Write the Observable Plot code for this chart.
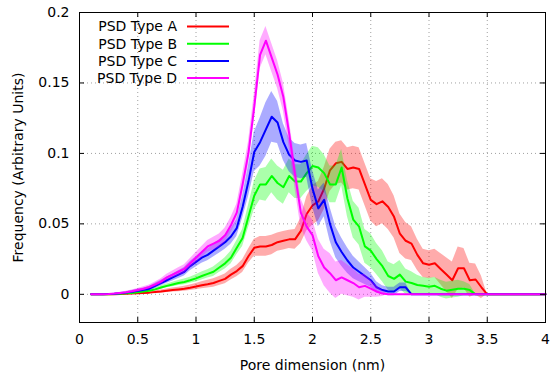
<!DOCTYPE html>
<html>
<head>
<meta charset="utf-8">
<script src="https://cdn.jsdelivr.net/npm/d3@7"></script>
<script src="https://cdn.jsdelivr.net/npm/@observablehq/plot@0.6"></script>
<style>
  html, body { margin: 0; padding: 0; background: #fff; }
  #chart { width: 550px; height: 377px; }
</style>
</head>
<body>
<div id="chart"></div>
<script>
const xs = [
  0.10,0.15,0.20,0.25,0.30,0.35,0.40,0.45,0.50,0.55,
  0.60,0.65,0.70,0.75,0.80,0.85,0.90,0.95,1.00,1.05,
  1.10,1.15,1.20,1.25,1.30,1.35,1.40,1.45,1.50,1.55,
  1.60,1.65,1.70,1.75,1.80,1.85,1.90,1.95,2.00,2.05,
  2.10,2.15,2.20,2.25,2.30,2.35,2.40,2.45,2.50,2.55,
  2.60,2.65,2.70,2.75,2.80,2.85,2.90,2.95,3.00,3.05,
  3.10,3.15,3.20,3.25,3.30,3.35,3.40,3.45,3.50,3.55,
  3.60,3.65,3.70,3.75,3.80,3.85,3.90,3.95,4.00
];

const typeA = [
  0,0,0,0,0.0001,0.0002,0.0004,0.0006,0.0008,0.001,
  0.0012,0.0016,0.002,0.0025,0.003,0.0035,0.004,0.0047,0.0055,0.0065,
  0.0072,0.008,0.0095,0.011,0.014,0.0165,0.02,0.027,0.033,0.034,
  0.034,0.035,0.037,0.038,0.039,0.039,0.045,0.057,0.063,0.066,
  0.075,0.088,0.093,0.094,0.089,0.09,0.089,0.078,0.067,0.064,
  0.066,0.062,0.055,0.043,0.038,0.036,0.028,0.022,0.021,0.022,
  0.018,0.014,0.01,0.0185,0.0185,0.01,0.0105,0.005,0,0,
  0,0,0,0,0,0,0,0,0
];
const errA = [
  0,0,0,0,0.0002,0.0003,0.0004,0.0005,0.0006,0.0007,
  0.0008,0.0009,0.001,0.0012,0.0014,0.0016,0.0018,0.002,0.0022,0.0025,
  0.0028,0.003,0.0032,0.0035,0.0038,0.004,0.0045,0.005,0.006,0.007,
  0.007,0.007,0.0065,0.0065,0.0065,0.007,0.009,0.012,0.014,0.014,
  0.015,0.015,0.015,0.015,0.015,0.015,0.015,0.015,0.015,0.016,
  0.016,0.016,0.015,0.014,0.013,0.012,0.011,0.01,0.01,0.01,
  0.011,0.012,0.013,0.015,0.014,0.012,0.011,0.008,0,0,
  0,0,0,0,0,0,0,0,0
];

const typeB = [
  0,0,0,0,0.0002,0.0004,0.0007,0.001,0.0015,0.002,
  0.0026,0.0035,0.0048,0.006,0.007,0.008,0.0088,0.01,0.0113,0.013,
  0.0145,0.016,0.019,0.022,0.026,0.033,0.04,0.055,0.07,0.078,
  0.078,0.084,0.079,0.076,0.084,0.08,0.08,0.086,0.091,0.09,
  0.086,0.078,0.078,0.09,0.068,0.053,0.048,0.034,0.031,0.025,
  0.02,0.013,0.011,0.014,0.009,0.008,0.0066,0.006,0.0054,0.006,
  0.004,0.0026,0.0033,0.004,0.004,0.003,0,0,0,0,
  0,0,0,0,0,0,0,0,0
];
const errB = [
  0,0,0,0,0.0002,0.0003,0.0004,0.0005,0.0006,0.0007,
  0.0008,0.001,0.0012,0.0014,0.0016,0.0018,0.002,0.0022,0.0025,0.0028,
  0.003,0.0033,0.0036,0.004,0.0045,0.005,0.006,0.008,0.01,0.011,
  0.012,0.012,0.012,0.012,0.012,0.012,0.012,0.013,0.014,0.014,
  0.013,0.013,0.013,0.013,0.013,0.013,0.013,0.012,0.012,0.011,
  0.011,0.01,0.01,0.01,0.009,0.008,0.007,0.006,0.006,0.006,
  0.006,0.006,0.006,0.006,0.005,0.004,0,0,0,0,
  0,0,0,0,0,0,0,0,0
];

const typeC = [
  0,0,0,0.0002,0.0004,0.0008,0.0012,0.0018,0.0025,0.0032,
  0.004,0.006,0.008,0.01,0.012,0.014,0.016,0.02,0.023,0.026,
  0.028,0.031,0.034,0.037,0.041,0.047,0.062,0.08,0.101,0.108,
  0.117,0.126,0.122,0.108,0.099,0.095,0.094,0.095,0.075,0.061,
  0.067,0.05,0.037,0.03,0.024,0.019,0.016,0.013,0.01,0.005,
  0.003,0.002,0.002,0.005,0.005,0,0,0,0,0,
  0,0,0,0,0,0,0,0,0,0,
  0,0,0,0,0,0,0,0,0
];
const errC = [
  0,0,0,0.0002,0.0003,0.0005,0.0007,0.0009,0.0011,0.0013,
  0.0015,0.0018,0.002,0.0022,0.0025,0.0028,0.003,0.0033,0.0036,0.004,
  0.0042,0.0045,0.0048,0.005,0.0055,0.006,0.008,0.011,0.014,0.017,
  0.019,0.018,0.015,0.013,0.012,0.012,0.012,0.012,0.013,0.013,
  0.012,0.012,0.011,0.01,0.009,0.008,0.007,0.006,0.005,0.004,
  0.003,0.003,0.003,0.003,0.003,0,0,0,0,0,
  0,0,0,0,0,0,0,0,0,0,
  0,0,0,0,0,0,0,0,0
];

const typeD = [
  0,0,0,0.0002,0.0005,0.001,0.0015,0.0022,0.003,0.004,
  0.0052,0.007,0.009,0.012,0.014,0.016,0.018,0.022,0.026,0.03,
  0.034,0.036,0.038,0.042,0.049,0.058,0.078,0.1,0.133,0.17,
  0.18,0.168,0.156,0.14,0.114,0.085,0.058,0.048,0.042,0.027,
  0.019,0.015,0.01,0.012,0.01,0.008,0.005,0.006,0.004,0.002,
  0.0005,0,0,0,0,0,0,0,0,0,
  0,0,0,0,0,0,0,0,0,0,
  0,0,0,0,0,0,0,0,0
];
const errD = [
  0,0,0,0.0002,0.0003,0.0005,0.0007,0.0009,0.0011,0.0013,
  0.0015,0.0018,0.002,0.0022,0.0025,0.0028,0.003,0.0033,0.0036,0.004,
  0.0042,0.0045,0.0048,0.005,0.0055,0.006,0.007,0.008,0.009,0.01,
  0.01,0.01,0.01,0.01,0.01,0.01,0.01,0.01,0.011,0.012,
  0.013,0.014,0.013,0.012,0.011,0.01,0.009,0.008,0.006,0.004,
  0.002,0,0,0,0,0,0,0,0,0,
  0,0,0,0,0,0,0,0,0,0,
  0,0,0,0,0,0,0,0,0
];

const seriesNames = ["PSD Type A", "PSD Type B", "PSD Type C", "PSD Type D"];
const seriesColors = ["#ff0000", "#00ff00", "#0000ff", "#ff00ff"];
const seriesValues = [typeA, typeB, typeC, typeD];
const seriesErrors = [errA, errB, errC, errD];

const xTicks = [0, 0.5, 1, 1.5, 2, 2.5, 3, 3.5, 4];
const yTicks = [0, 0.05, 0.1, 0.15, 0.2];
const xGrid = [0.5, 1, 1.5, 2, 2.5, 3, 3.5];
const yGrid = [0, 0.05, 0.1, 0.15];
const xLabel = "Pore dimension (nm)";
const yLabel = "Frequency (Arbitrary Units)";

const tables = seriesNames.map((name, k) =>
  xs.map((x, i) => ({
    x,
    y: seriesValues[k][i],
    lo: seriesValues[k][i] - seriesErrors[k][i],
    hi: seriesValues[k][i] + seriesErrors[k][i]
  }))
);

const W = 550, H = 377, mT = 12, mR = 5, mB = 55, mL = 79;
const fw = W - mL - mR, fh = H - mT - mB;
const tickLen = 5;
const gridStyle = {stroke: "#a0a0a0", strokeOpacity: 1, strokeWidth: 1, strokeDasharray: "1,3"};

const seriesMarks = [];
tables.forEach((rows, k) => {
  seriesMarks.push(Plot.areaY(rows, {x: "x", y1: "lo", y2: "hi", fill: seriesColors[k], fillOpacity: 0.33}));
  seriesMarks.push(Plot.line(rows, {x: "x", y: "y", stroke: seriesColors[k], strokeWidth: 2}));
});

const plot = Plot.plot({
  width: W, height: H,
  marginTop: mT, marginRight: mR, marginBottom: mB, marginLeft: mL,
  x: {domain: [0, 4]},
  y: {domain: [-0.02, 0.2]},
  style: {fontFamily: "'DejaVu Sans', sans-serif", fontSize: "14px", color: "#000", background: "#fff"},
  marks: [
    Plot.ruleX(xGrid, {x: d => d, ...gridStyle}),
    Plot.ruleY(yGrid, {y: d => d, ...gridStyle}),
    ...seriesMarks,
    Plot.ruleX(xTicks, {x: d => d, stroke: "#000", insetTop: fh - tickLen}),
    Plot.ruleX(xTicks, {x: d => d, stroke: "#000", insetBottom: fh - tickLen}),
    Plot.ruleY(yTicks, {y: d => d, stroke: "#000", insetRight: fw - tickLen}),
    Plot.ruleY(yTicks, {y: d => d, stroke: "#000", insetLeft: fw - tickLen}),
    Plot.frame({stroke: "#000", strokeWidth: 1}),
    Plot.axisX({ticks: xTicks, tickSize: 0, tickPadding: 12, tickFormat: d => String(d), label: null, fill: "#000"}),
    Plot.axisY({ticks: yTicks, tickSize: 0, tickPadding: 10, tickFormat: d => String(d), label: null, fill: "#000"}),
    Plot.text([xLabel], {text: d => d, frameAnchor: "bottom", dy: 43, textAnchor: "middle", lineAnchor: "middle", fill: "#000", fontSize: 14}),
    Plot.text([yLabel], {text: d => d, frameAnchor: "left", dx: -61, rotate: -90, textAnchor: "middle", lineAnchor: "middle", fill: "#000", fontSize: 14})
  ]
});

// Legend (top-left, inside the frame)
const svg = d3.select(plot);
const leg = svg.append("g").attr("font-family", "'DejaVu Sans', sans-serif").attr("font-size", 14);
seriesNames.forEach((name, i) => {
  const cy = 26.5 + i * 17.2;
  leg.append("text").attr("x", 177).attr("y", cy).attr("dy", "0.35em")
    .attr("text-anchor", "end").attr("fill", "#000").text(name);
  leg.append("line").attr("x1", 187).attr("x2", 229).attr("y1", cy).attr("y2", cy)
    .attr("stroke", seriesColors[i]).attr("stroke-width", 2);
});

document.getElementById("chart").appendChild(plot);
</script>
</body>
</html>
